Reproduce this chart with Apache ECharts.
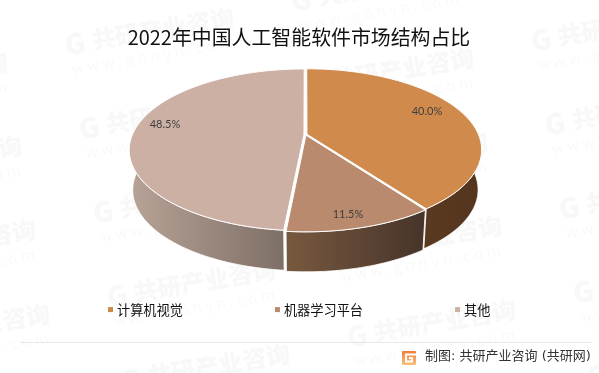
<!DOCTYPE html>
<html>
<head>
<meta charset="utf-8">
<style>html,body{margin:0;padding:0;background:#fff}#c{width:599px;height:373px}</style>
<script src="https://cdn.jsdelivr.net/npm/echarts@6/dist/echarts.min.js"></script>
</head>
<body>
<div id="c"></div>
<script>
var titleText = '2022年中国人工智能软件市场结构占比';
var sourceText = '制图: 共研产业咨询 (共研网)';
var categories = ['计算机视觉', '机器学习平台', '其他'];
var shares = [40.0, 11.5, 48.5];
var topColors = ['#D08A4C', '#B98A6D', '#CCB0A4'];
var sideColors = [['#53341D', '#5A3A20'], ['#78593F', '#46342A'], ['#B8A397', '#7E6F66']];
var labelAnchors = [[427, 111], [348, 214], [165, 124]];

var CX = 305.5, CY = 134.5, SX = 171.5, KY = 78, P = 0.19, DEPTH = 40, BOTTOM_SCALE = 0.98, EXPLODE = 0.009;

function project(u, v, depth) {
  var d = 1 - P * v;
  var sx = depth ? SX * BOTTOM_SCALE : SX;
  return [CX + sx * u / d, CY + KY * v / d + (depth ? DEPTH : 0)];
}
function rad(deg) { return deg * Math.PI / 180; }
function sliceRange(i) {
  var total = shares.reduce(function (a, b) { return a + b; }, 0), before = 0;
  for (var k = 0; k < i; k++) before += shares[k];
  return [before / total * 360, (before + shares[i]) / total * 360];
}
function arc(a, b, ou, ov, depth) {
  var pts = [], n = Math.max(2, Math.ceil(Math.abs(b - a) / 1.5));
  for (var j = 0; j <= n; j++) {
    var t = rad(a + (b - a) * j / n);
    pts.push(project(ou + Math.sin(t), ov - Math.cos(t), depth));
  }
  return pts;
}
function renderSlice(params, api) {
  var i = params.seriesIndex, value = api.value(0), r = sliceRange(i), mid = rad((r[0] + r[1]) / 2);
  var ou = EXPLODE * Math.sin(mid), ov = -EXPLODE * Math.cos(mid);
  var children = [];
  var a = Math.max(r[0], 90), b = Math.min(r[1], 270);
  if (b > a) {
    var side = arc(a, b, ou, ov, false).concat(arc(a, b, ou, ov, true).reverse());
    children.push({
      type: 'polygon', shape: { points: side },
      style: {
        fill: new echarts.graphic.LinearGradient(i === 0 ? 1 : 0, 0, i === 0 ? 0 : 1, 0, [
          { offset: 0, color: sideColors[i][0] }, { offset: 1, color: sideColors[i][1] }
        ]),
        stroke: '#fff', lineWidth: 0.8
      }
    });
  }
  var top = [project(ou, ov, false)].concat(arc(r[0], r[1], ou, ov, false));
  children.push({
    type: 'polygon', shape: { points: top },
    style: { fill: topColors[i], stroke: '#fff', lineWidth: 1 }
  });
  children.push({
    type: 'text',
    style: {
      text: value.toFixed(1) + '%', x: labelAnchors[i][0], y: labelAnchors[i][1],
      align: 'center', verticalAlign: 'middle', fill: '#404040', font: '11px Lato, sans-serif'
    }
  });
  return { type: 'group', children: children };
}

var watermarks = [];
for (var m = -2; m <= 3; m++) {
  for (var n = -1; n <= 4; n++) {
    watermarks.push({
      type: 'group', x: 65 + 240 * m + 14 * n, y: 45 + 40 * m + 84 * n, rotation: 0.165, silent: true, z: 0,
      children: [
        { type: 'text', x: 0, y: 0, style: { text: 'G', fill: '#F8F8F8', font: '900 28px "Noto Sans CJK SC"', verticalAlign: 'middle' } },
        { type: 'text', x: 27, y: 0, style: { text: '共研产业咨询', fill: '#F8F8F8', font: '900 24px "Noto Sans CJK SC"', verticalAlign: 'middle' } },
        { type: 'text', x: 3, y: 26, style: { text: 'w w w . g o n y n . c o m', fill: '#F9F9F9', font: '15px "Open Sans"', verticalAlign: 'middle' } }
      ]
    });
  }
}

var chart = echarts.init(document.getElementById('c'), null, { renderer: 'canvas' });
chart.setOption({
  animation: false,
  backgroundColor: '#fff',
  title: {
    text: titleText, left: 294, top: 22, textAlign: 'center',
    textStyle: { fontFamily: '"Noto Sans CJK SC"', fontSize: 19.9, fontWeight: 'normal', color: '#111' }
  },
  legend: {
    data: categories, left: 108, top: 303, icon: 'rect', itemWidth: 5, itemHeight: 5, itemGap: 92, padding: 0,
    selectedMode: false,
    textStyle: { fontFamily: '"Noto Sans CJK SC"', fontSize: 13.2, color: '#111', padding: [0, 0, 0, -1] }
  },
  series: categories.map(function (name, i) {
    return {
      type: 'custom', name: name, coordinateSystem: 'none', silent: true, z: 5,
      itemStyle: { color: topColors[i] },
      data: [[shares[i]]], renderItem: renderSlice
    };
  }),
  graphic: {
    elements: watermarks.concat([
      { type: 'line', shape: { x1: 20, y1: 342.5, x2: 592, y2: 342.5 }, style: { stroke: '#E8E8E8', lineWidth: 1 }, z: 1 },
      {
        type: 'rect', shape: { x: 402, y: 351, width: 14, height: 14, r: 1 }, z: 1,
        style: {
          fill: new echarts.graphic.LinearGradient(0, 0, 0, 1, [
            { offset: 0, color: '#F47B3A' }, { offset: 1, color: '#F8C27A' }
          ])
        }
      },
      { type: 'polyline', shape: { points: [[416, 354.5], [406, 354.5], [406, 361.5], [412, 361.5], [412, 358], [409, 358]] }, style: { stroke: '#fff', lineWidth: 2, fill: 'none' }, z: 2 },
      { type: 'text', x: 425, y: 357, z: 1, style: { text: sourceText, fill: '#333', font: '13px "DejaVu Sans", "Noto Sans CJK SC"', verticalAlign: 'middle' } }
    ])
  }
});
</script>
</body>
</html>
